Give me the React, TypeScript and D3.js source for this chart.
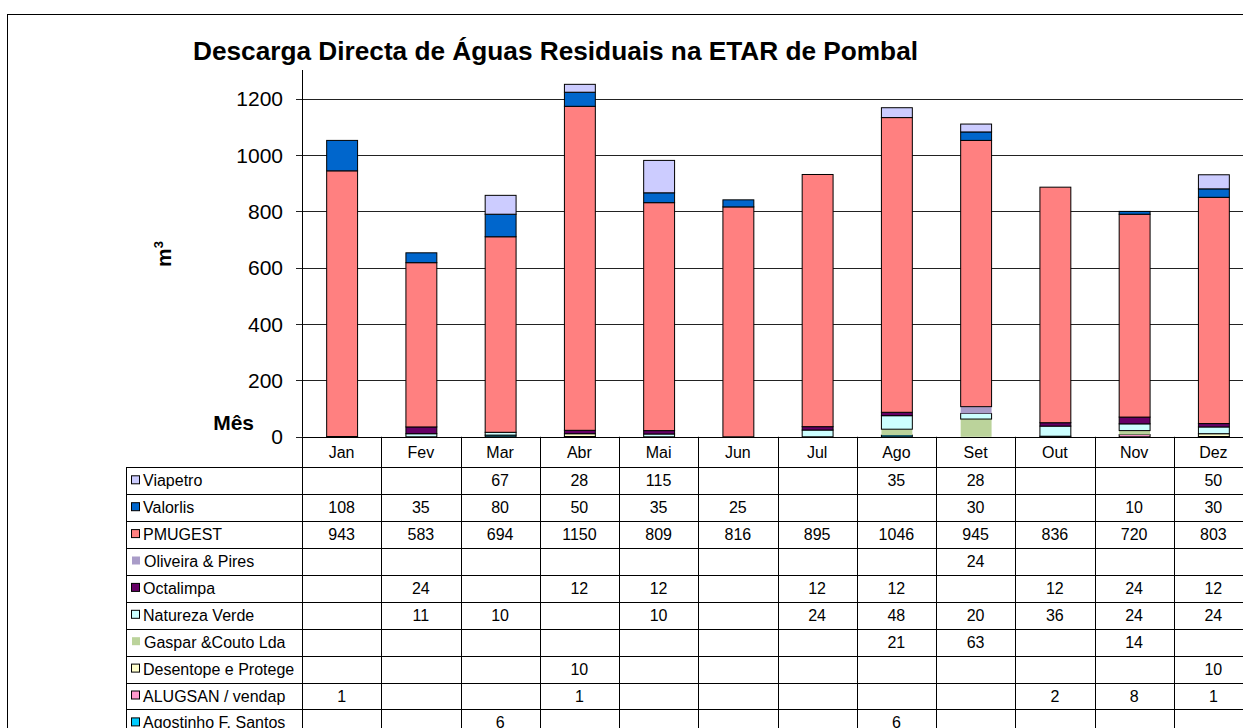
import React from "react";
import * as d3 from "d3";

const months = ["Jan", "Fev", "Mar", "Abr", "Mai", "Jun", "Jul", "Ago", "Set", "Out", "Nov", "Dez"];
const viapetro = [null, null, 67, 28, 115, null, null, 35, 28, null, null, 50];
const valorlis = [108, 35, 80, 50, 35, 25, null, null, 30, null, 10, 30];
const pmugest = [943, 583, 694, 1150, 809, 816, 895, 1046, 945, 836, 720, 803];
const oliveiraPires = [null, null, null, null, null, null, null, null, 24, null, null, null];
const octalimpa = [null, 24, null, 12, 12, null, 12, 12, null, 12, 24, 12];
const naturezaVerde = [null, 11, 10, null, 10, null, 24, 48, 20, 36, 24, 24];
const gasparCouto = [null, null, null, null, null, null, null, 21, 63, null, 14, null];
const desentope = [null, null, null, 10, null, null, null, null, null, null, null, 10];
const alugsan = [1, null, null, 1, null, null, null, null, null, 2, 8, 1];
const agostinho = [null, null, 6, null, null, null, null, 6, null, null, null, null];
const yTicks = [0, 200, 400, 600, 800, 1000, 1200];

// table order (top row first)
const seriesNames = [
  "Viapetro",
  "Valorlis",
  "PMUGEST",
  "Oliveira & Pires",
  "Octalimpa",
  "Natureza Verde",
  "Gaspar &Couto Lda",
  "Desentope e Protege",
  "ALUGSAN / vendap",
  "Agostinho F. Santos",
];
const seriesValues: (number | null)[][] = [
  viapetro,
  valorlis,
  pmugest,
  oliveiraPires,
  octalimpa,
  naturezaVerde,
  gasparCouto,
  desentope,
  alugsan,
  agostinho,
];

const colors: Record<string, string> = {
  Viapetro: "#CCCCFF",
  Valorlis: "#0066CC",
  PMUGEST: "#FF8080",
  "Oliveira & Pires": "#A99CC8",
  Octalimpa: "#660066",
  "Natureza Verde": "#CCFFFF",
  "Gaspar &Couto Lda": "#BBD39B",
  "Desentope e Protege": "#FFFFCC",
  "ALUGSAN / vendap": "#FF99CC",
  "Agostinho F. Santos": "#00CCFF",
};
const noStroke = new Set(["Oliveira & Pires", "Gaspar &Couto Lda"]);

const FONT = "'Liberation Sans', Arial, sans-serif";

export default function App() {
  const W = 1243;
  const H = 728;
  const plotLeft = 302;
  const plotRight = 1253;
  const plotTop = 70;

  const y = d3.scaleLinear().domain([0, 1200]).range([436.8, 98.7]);
  const x = d3
    .scaleBand<string>()
    .domain(months)
    .range([plotLeft, plotRight])
    .paddingInner(0.61)
    .paddingOuter(0.305);
  const col = d3.scaleBand<string>().domain(months).range([plotLeft, plotRight]).padding(0);

  // stack bottom -> top = reversed table order
  const stackKeys = [...seriesNames].reverse();
  const rows = months.map((m, i) => {
    const r: Record<string, number | string> = { month: m };
    seriesNames.forEach((s, k) => {
      r[s] = seriesValues[k][i] ?? 0;
    });
    return r;
  });
  const stacked = d3.stack<Record<string, number | string>>().keys(stackKeys)(rows as any);

  const y0 = y(0);
  const tableTop = 467.3;
  const rowH = 26.9;
  const legLeft = 126;

  return (
    <div style={{ position: "absolute", left: 0, top: 0 }}>
      <svg width={W} height={H} style={{ display: "block", background: "#fff" }} fontFamily={FONT}>
        <rect x={0} y={0} width={W} height={H} fill="#fff" />
        <rect x={7.5} y={14.5} width={1400} height={900} fill="none" stroke="#000" strokeWidth={1} />

        {/* title */}
        <text
          x={193}
          y={60}
          fontSize={25}
          fontWeight="bold"
          textLength={725}
          lengthAdjust="spacingAndGlyphs"
        >
          Descarga Directa de Águas Residuais na ETAR de Pombal
        </text>

        {/* gridlines */}
        {yTicks.map((t) => (
          <line
            key={"g" + t}
            x1={296}
            x2={plotRight}
            y1={Math.round(y(t)) + 0.5}
            y2={Math.round(y(t)) + 0.5}
            stroke="#222"
            strokeWidth={1}
          />
        ))}

        {/* y axis */}
        <line x1={plotLeft + 0.5} x2={plotLeft + 0.5} y1={plotTop} y2={y0} stroke="#000" />
        {yTicks.map((t) => (
          <text key={"t" + t} x={283} y={y(t) + 7.5} fontSize={21} textAnchor="end" fill="#000">
            {t}
          </text>
        ))}

        {/* bars */}
        {stacked.map((layer) => {
          const key = layer.key;
          return (
            <g key={key}>
              {layer.map((d, i) => {
                const v = d[1] - d[0];
                if (!v) return null;
                const m = months[i];
                return (
                  <rect
                    key={m}
                    x={(x(m) as number) + 0.5}
                    y={y(d[1])}
                    width={x.bandwidth()}
                    height={y(d[0]) - y(d[1])}
                    fill={colors[key]}
                    stroke={noStroke.has(key) ? "none" : "#000"}
                    strokeWidth={1}
                  />
                );
              })}
            </g>
          );
        })}

        {/* axis titles */}
        <text transform="translate(171,267) rotate(-90)" fontSize={21} fontWeight="bold">
          m
          <tspan dy={-8} fontSize={13}>
            3
          </tspan>
        </text>
        <text x={254} y={430} fontSize={21} fontWeight="bold" textAnchor="end">
          Mês
        </text>

        {/* data table */}
        <line x1={plotLeft} x2={plotRight} y1={Math.round(y0) + 0.5} y2={Math.round(y0) + 0.5} stroke="#000" />
        {months.map((m) => (
          <g key={"h" + m}>
            <line
              x1={Math.round(col(m) as number) + 0.5}
              x2={Math.round(col(m) as number) + 0.5}
              y1={y0}
              y2={H + 20}
              stroke="#000"
            />
            <text
              x={(col(m) as number) + col.bandwidth() / 2}
              y={458}
              fontSize={16}
              textAnchor="middle"
            >
              {m}
            </text>
          </g>
        ))}
        <line x1={legLeft + 0.5} x2={legLeft + 0.5} y1={tableTop} y2={H + 20} stroke="#000" />
        {d3.range(seriesNames.length + 1).map((k) => (
          <line
            key={"r" + k}
            x1={legLeft}
            x2={plotRight}
            y1={Math.round(tableTop + k * rowH) + 0.5}
            y2={Math.round(tableTop + k * rowH) + 0.5}
            stroke="#000"
          />
        ))}
        {seriesNames.map((s, k) => {
          const top = tableTop + k * rowH;
          const ns = noStroke.has(s);
          return (
            <g key={"row" + s}>
              <rect
                x={ns ? 132 : 131.5}
                y={top + 8.5}
                width={8}
                height={8}
                fill={colors[s]}
                stroke={ns ? "none" : "#000"}
                strokeWidth={1}
              />
              <text x={ns ? 144 : 143} y={top + 19} fontSize={16}>
                {s}
              </text>
              {seriesValues[k].map((v, i) =>
                v == null ? null : (
                  <text
                    key={i}
                    x={(col(months[i]) as number) + col.bandwidth() / 2}
                    y={top + 19}
                    fontSize={16}
                    textAnchor="middle"
                  >
                    {v}
                  </text>
                )
              )}
            </g>
          );
        })}
      </svg>
    </div>
  );
}
